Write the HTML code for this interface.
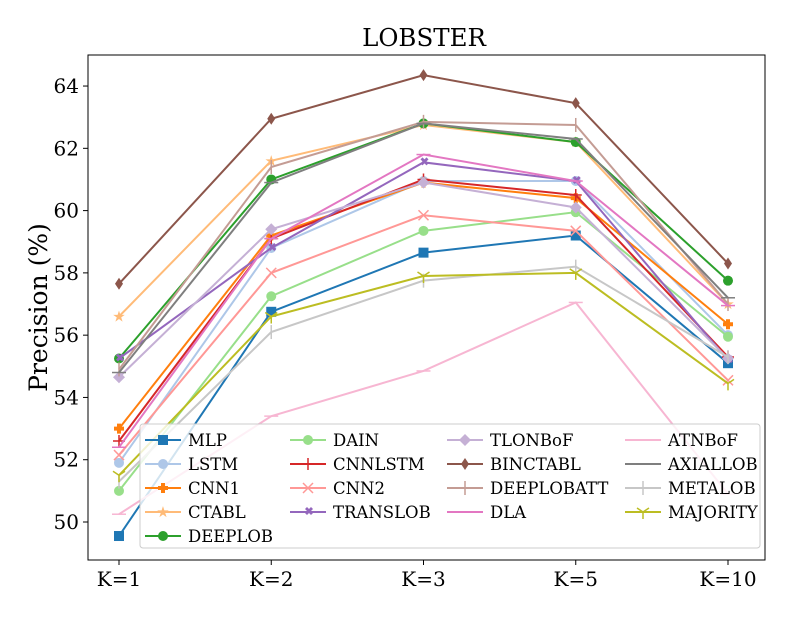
<!DOCTYPE html>
<html><head><meta charset="utf-8"><style>
body{margin:0;background:#fff}
svg text{font-family:"DejaVu Serif","Liberation Serif",serif;fill:#000}
</style></head><body>
<svg id="c" width="789" height="614"></svg>
<script>
const categories=["K=1","K=2","K=3","K=5","K=10"];
const yTicks=[50,52,54,56,58,60,62,64];
const names=["MLP","LSTM","CNN1","CTABL","DEEPLOB","DAIN","CNNLSTM","CNN2","TRANSLOB","TLONBoF","BINCTABL","DEEPLOBATT","DLA","ATNBoF","AXIALLOB","METALOB","MAJORITY"];
const vMLP=[49.55,56.75,58.65,59.2,55.1];
const vLSTM=[51.9,58.8,60.95,60.95,56.0];
const vCNN1=[53.0,59.2,60.9,60.4,56.35];
const vCTABL=[56.6,61.6,62.75,62.2,57.0];
const vDEEPLOB=[55.25,61.0,62.8,62.2,57.75];
const vDAIN=[51.0,57.25,59.35,59.95,55.95];
const vCNNLSTM=[52.6,59.1,61.0,60.5,55.3];
const vCNN2=[52.15,58.0,59.85,59.35,54.55];
const vTRANSLOB=[55.25,58.8,61.55,60.95,55.2];
const vTLONBoF=[54.65,59.4,60.9,60.1,55.25];
const vBINCTABL=[57.65,62.95,64.35,63.45,58.3];
const vDEEPLOBATT=[54.9,61.4,62.85,62.75,57.0];
const vDLA=[52.4,59.1,61.8,60.95,56.95];
const vATNBoF=[50.25,53.4,54.85,57.05,50.9];
const vAXIALLOB=[54.8,60.9,62.8,62.3,57.2];
const vMETALOB=[51.3,56.1,57.75,58.2,55.3];
const vMAJORITY=[51.5,56.6,57.9,58.0,54.45];
const series=[vMLP,vLSTM,vCNN1,vCTABL,vDEEPLOB,vDAIN,vCNNLSTM,vCNN2,vTRANSLOB,vTLONBoF,vBINCTABL,vDEEPLOBATT,vDLA,vATNBoF,vAXIALLOB,vMETALOB,vMAJORITY];
const colors=["#1f77b4","#aec7e8","#ff7f0e","#ffbb78","#2ca02c","#98df8a","#d62728","#ff9896","#9467bd","#c5b0d5","#8c564b","#c49c94","#e377c2","#f7b6d2","#7f7f7f","#c7c7c7","#bcbd22"];
const markers=["s","o","P","*","o","o","+","x","X","D","d","|","_","_","_","|","1"];
const NS="http://www.w3.org/2000/svg";
const svg=document.getElementById("c");
const L=88,R=765,T=55,B=560;
const x=i=>119+i*152.25;
const y=v=>522-(v-50)*31.14;
function el(t,a,p){const e=document.createElementNS(NS,t);for(const k in a)e.setAttribute(k,a[k]);(p||svg).appendChild(e);return e;}
function marker(g,m,cx,cy,c){
 const s=5;
 if(m=="s")el("rect",{x:cx-s,y:cy-s,width:2*s,height:2*s,fill:c},g);
 else if(m=="o")el("circle",{cx,cy,r:s,fill:c},g);
 else if(m=="D")el("polygon",{points:`${cx},${cy-6} ${cx+6},${cy} ${cx},${cy+6} ${cx-6},${cy}`,fill:c},g);
 else if(m=="d")el("polygon",{points:`${cx},${cy-6} ${cx+4},${cy} ${cx},${cy+6} ${cx-4},${cy}`,fill:c},g);
 else if(m=="P")el("path",{d:`M${cx-2} ${cy-5}h4v3h3v4h-3v3h-4v-3h-3v-4h3z`,fill:c},g);
 else if(m=="X")el("path",{d:`M${cx-5} ${cy-3}l2-2 2 2 2-2 2 2-2 2 2 2-2 2-2-2-2 2-2-2 2-2z`,transform:`translate(2 0)`,fill:c},g);
 else if(m=="*")el("text",{x:cx,y:cy+5,"text-anchor":"middle","font-size":15,style:`fill:${c}`},g).textContent="★";
 else if(m=="+")el("path",{d:`M${cx-6} ${cy}h12M${cx} ${cy-6}v12`,stroke:c,"stroke-width":1.5},g);
 else if(m=="x")el("path",{d:`M${cx-5} ${cy-5}l10 10M${cx+5} ${cy-5}l-10 10`,stroke:c,"stroke-width":1.5},g);
 else if(m=="|")el("path",{d:`M${cx} ${cy-7}v14`,stroke:c,"stroke-width":1.5},g);
 else if(m=="_")el("path",{d:`M${cx-7} ${cy}h14`,stroke:c,"stroke-width":1.5},g);
 else if(m=="1")el("path",{d:`M${cx} ${cy}v7M${cx} ${cy}l-6-4M${cx} ${cy}l6-4`,stroke:c,"stroke-width":1.5},g);
}
const title=el("text",{x:424,y:46,"text-anchor":"middle","font-size":24.5});title.textContent="LOBSTER";

const yl=el("text",{x:0,y:0,"text-anchor":"middle","font-size":25,transform:`translate(47 ${(T+B)/2}) rotate(-90)`});yl.textContent="Precision (%)";

yTicks.forEach(v=>{
 el("line",{x1:L-5,x2:L,y1:y(v),y2:y(v),stroke:"#000"});
 const t=el("text",{x:L-9,y:y(v)+7,"text-anchor":"end","font-size":20});t.textContent=v;
 
});
categories.forEach((c,i)=>{
 el("line",{x1:x(i),x2:x(i),y1:B,y2:B+5,stroke:"#000"});
 const t=el("text",{x:x(i),y:B+26,"text-anchor":"middle","font-size":20});t.textContent=c;
 
});
series.forEach((s,k)=>{
 const g=el("g",{});
 
 
 el("polyline",{points:s.map((v,i)=>x(i)+","+y(v)).join(" "),fill:"none",stroke:colors[k],"stroke-width":2},g);
 s.forEach((v,i)=>marker(g,markers[k],x(i),y(v),colors[k]));
});
const lg=el("g",{});

el("rect",{x:140,y:424,width:620,height:124,rx:3,fill:"rgba(255,255,255,0.8)",stroke:"#ccc"},lg);
const colX=[145,290,447,625];
const colStart=[0,5,9,13];
names.forEach((n,k)=>{
 let col=0;for(let c=0;c<4;c++)if(k>=colStart[c])col=c;
 const row=k-colStart[col];
 const lx=colX[col],ly=440+row*24;
 const e=el("g",{},lg);
 
 
 el("line",{x1:lx,x2:lx+36,y1:ly,y2:ly,stroke:colors[k],"stroke-width":2},e);
 marker(e,markers[k],lx+18,ly,colors[k]);
 const t=el("text",{x:lx+43,y:ly+6,"font-size":16.5},e);t.textContent=n;
});
el("rect",{x:L,y:T,width:R-L,height:B-T,fill:"none",stroke:"#000","stroke-width":1});
</script>
</body></html>
